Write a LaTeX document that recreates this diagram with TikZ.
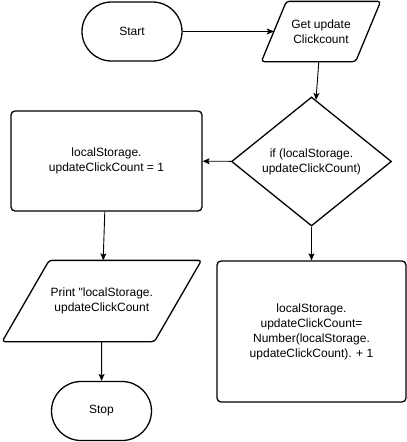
\documentclass[tikz,border=0pt]{standalone}
\usepackage{fontspec}
\setmainfont{Liberation Sans}
\usetikzlibrary{shapes.geometric,shapes.misc,arrows.meta}
\tikzset{
	box/.style={draw, line width=1.3pt, align=center, inner sep=0pt, font=\fontsize{12}{15}\selectfont},
	terminal/.style={box, rounded rectangle, minimum width=100pt, minimum height=59pt},
	process/.style={box, rectangle, rounded corners=4pt},
	io/.style={box, draw=none, rectangle},
	outline/.style={line width=1.3pt, rounded corners=3pt},
	decision/.style={box, diamond},
	flow/.style={line width=0.9pt, -{Stealth[length=7pt,width=6pt,inset=1.5pt]}}
}

\begin{document}
\begin{tikzpicture}[x=1pt,y=-1pt]
	% picture size
	\useasboundingbox (0,0) rectangle (407,442);
	
	% start and read the count
	\node[terminal] (start) at (132,31.5) {Start};
	\node[io, minimum width=93pt, minimum height=59pt] (getcount) at (321,31.5) {Get update\\Clickcount};
	% slanted outline round the input node
	\draw[outline] ([xshift=12.5pt]getcount.north west) -- ([xshift=12.5pt]getcount.north east)
		-- ([xshift=-12.5pt]getcount.south east) -- ([xshift=-12.5pt]getcount.south west) -- cycle;
	
	% the test
	\node[decision, minimum width=160pt, minimum height=129pt] (check) at (311.5,161.5) {if (localStorage.\\updateClickCount)};
	
	% the two branches
	\node[process, minimum width=191pt, minimum height=100pt] (setone) at (106.5,161) {localStorage.\\updateClickCount = 1};
	\node[process, minimum width=189pt, minimum height=141pt] (addone) at (311.5,331.5) {localStorage.\\updateClickCount=\\Number(localStorage.\\updateClickCount). + 1};
	
	% output and end
	\node[io, minimum width=151pt, minimum height=80pt] (printcount) at (101.8,301) {Print \textquotedbl localStorage.\\updateClickCount};
	\draw[outline] ([xshift=23.5pt]printcount.north west) -- ([xshift=23.5pt]printcount.north east)
		-- ([xshift=-23.5pt]printcount.south east) -- ([xshift=-23.5pt]printcount.south west) -- cycle;
	\node[terminal] (stop) at (101.5,411) {Stop};
	
	% connectors
	\draw[flow] (start) -- (getcount);
	\draw[flow] (getcount) -- (check);
	\draw[flow] (check) -- (setone);
	\draw[flow] (check) -- (addone);
	\draw[flow] (setone) -- (printcount);
	\draw[flow] (printcount) -- (stop);
	
\end{tikzpicture}
\end{document}
